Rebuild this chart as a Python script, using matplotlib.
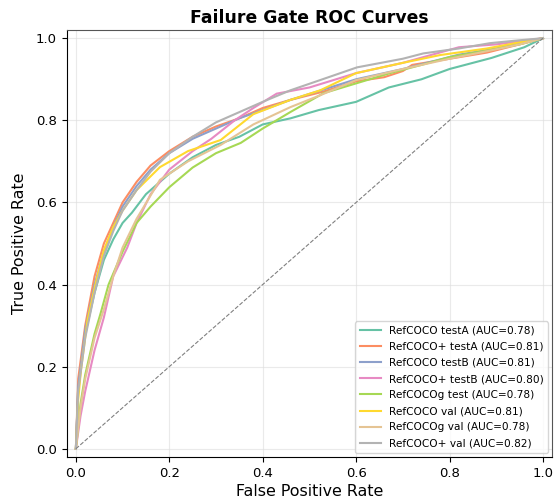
import matplotlib
matplotlib.use("Agg")
import matplotlib.pyplot as plt

# ROC points (fpr, tpr)
labels = ["RefCOCO testA", "RefCOCO+ testA", "RefCOCO testB", "RefCOCO+ testB",
          "RefCOCOg test", "RefCOCO val", "RefCOCOg val", "RefCOCO+ val"]
aucs = [0.78, 0.81, 0.81, 0.80, 0.78, 0.81, 0.78, 0.82]
colors = ["#66c2a5", "#fc8d62", "#8da0cb", "#e78ac3",
          "#a6d854", "#ffd92f", "#e5c494", "#b3b3b3"]

fpr_refcoco_testA = [0, 0.005, 0.02, 0.04, 0.06, 0.08, 0.10, 0.12, 0.15, 0.20, 0.25, 0.30, 0.35,
                     0.40, 0.46, 0.52, 0.60, 0.67, 0.74, 0.80, 0.89, 0.96, 1.0]
tpr_refcoco_testA = [0, 0.15, 0.28, 0.38, 0.46, 0.51, 0.55, 0.575, 0.62, 0.67, 0.71, 0.74, 0.76,
                     0.79, 0.805, 0.825, 0.845, 0.88, 0.90, 0.925, 0.952, 0.978, 1.0]

fpr_refcocop_testA = [0, 0.005, 0.02, 0.04, 0.06, 0.08, 0.10, 0.13, 0.16, 0.20, 0.25, 0.30, 0.35,
                      0.40, 0.46, 0.53, 0.60, 0.66, 0.70, 0.72, 0.80, 0.88, 0.95, 1.0]
tpr_refcocop_testA = [0, 0.17, 0.30, 0.42, 0.50, 0.55, 0.60, 0.65, 0.69, 0.725, 0.76, 0.785, 0.805,
                      0.83, 0.85, 0.87, 0.895, 0.905, 0.92, 0.935, 0.95, 0.965, 0.985, 1.0]

fpr_refcoco_testB = [0, 0.005, 0.02, 0.04, 0.06, 0.08, 0.10, 0.13, 0.16, 0.20, 0.25, 0.30, 0.35,
                     0.40, 0.46, 0.53, 0.60, 0.70, 0.82, 0.90, 0.96, 1.0]
tpr_refcoco_testB = [0, 0.15, 0.29, 0.40, 0.48, 0.54, 0.59, 0.64, 0.68, 0.72, 0.755, 0.78, 0.805,
                     0.825, 0.85, 0.875, 0.90, 0.925, 0.96, 0.975, 0.99, 1.0]

fpr_refcocop_testB = [0, 0.01, 0.02, 0.04, 0.06, 0.08, 0.11, 0.13, 0.16, 0.20, 0.25, 0.29, 0.34,
                      0.38, 0.43, 0.50, 0.60, 0.70, 0.82, 0.90, 1.0]
tpr_refcocop_testB = [0, 0.08, 0.14, 0.24, 0.32, 0.42, 0.49, 0.55, 0.62, 0.68, 0.725, 0.755, 0.80,
                      0.83, 0.865, 0.88, 0.915, 0.94, 0.978, 0.985, 1.0]

fpr_refcocog_test = [0, 0.01, 0.02, 0.04, 0.053, 0.07, 0.10, 0.13, 0.16, 0.20, 0.25, 0.30, 0.353,
                     0.40, 0.459, 0.53, 0.60, 0.673, 0.74, 0.80, 0.88, 0.95, 1.0]
tpr_refcocog_test = [0, 0.11, 0.18, 0.28, 0.33, 0.40, 0.48, 0.55, 0.59, 0.637, 0.685, 0.72, 0.745,
                     0.78, 0.82, 0.866, 0.89, 0.915, 0.935, 0.954, 0.97, 0.985, 1.0]

fpr_refcoco_val = [0, 0.005, 0.011, 0.025, 0.043, 0.06, 0.08, 0.10, 0.13, 0.18, 0.24, 0.31, 0.38,
                   0.46, 0.523, 0.60, 0.70, 0.78, 0.88, 0.95, 1.0]
tpr_refcoco_val = [0, 0.12, 0.192, 0.314, 0.406, 0.484, 0.54, 0.58, 0.63, 0.686, 0.725, 0.752, 0.815,
                   0.85, 0.873, 0.915, 0.94, 0.959, 0.975, 0.99, 1.0]

fpr_refcocog_val = [0, 0.01, 0.02, 0.04, 0.06, 0.08, 0.10, 0.13, 0.18, 0.24, 0.31, 0.38, 0.459,
                    0.523, 0.60, 0.70, 0.80, 0.887, 0.95, 1.0]
tpr_refcocog_val = [0, 0.10, 0.17, 0.27, 0.34, 0.42, 0.49, 0.56, 0.655, 0.70, 0.74, 0.79, 0.832,
                    0.861, 0.898, 0.925, 0.95, 0.97, 0.985, 1.0]

fpr_refcocop_val = [0, 0.005, 0.02, 0.04, 0.06, 0.08, 0.10, 0.13, 0.16, 0.20, 0.25, 0.30, 0.36,
                    0.40, 0.459, 0.523, 0.602, 0.70, 0.744, 0.82, 0.887, 0.95, 1.0]
tpr_refcocop_val = [0, 0.14, 0.27, 0.38, 0.47, 0.53, 0.58, 0.63, 0.675, 0.72, 0.76, 0.795, 0.825,
                    0.845, 0.873, 0.898, 0.929, 0.95, 0.963, 0.975, 0.988, 0.995, 1.0]

curves = [
    (fpr_refcoco_testA, tpr_refcoco_testA),
    (fpr_refcocop_testA, tpr_refcocop_testA),
    (fpr_refcoco_testB, tpr_refcoco_testB),
    (fpr_refcocop_testB, tpr_refcocop_testB),
    (fpr_refcocog_test, tpr_refcocog_test),
    (fpr_refcoco_val, tpr_refcoco_val),
    (fpr_refcocog_val, tpr_refcocog_val),
    (fpr_refcocop_val, tpr_refcocop_val),
]

fig = plt.figure(figsize=(5.59, 5.0), dpi=100)
ax = fig.add_axes([0.119, 0.086, 0.869, 0.854])

for (fpr, tpr), name, auc, c in zip(curves, labels, aucs, colors):
    ax.plot(fpr, tpr, color=c, lw=1.5, label="%s (AUC=%.2f)" % (name, auc))

ax.plot([0, 1], [0, 1], color="gray", lw=0.8, ls="--")
ax.set_xlim(-0.02, 1.02)
ax.set_ylim(-0.02, 1.02)
ax.grid(True, color="#dddddd", alpha=0.6, lw=0.8)
ax.set_xlabel("False Positive Rate", fontsize=11.4, labelpad=3)
ax.set_ylabel("True Positive Rate", fontsize=11.4, labelpad=6)
ax.set_title("Failure Gate ROC Curves", fontsize=12.4, fontweight="bold", pad=5)
ax.tick_params(labelsize=9.5)
for s in ("top", "right"):
    ax.spines[s].set_color("#555555")
ax.legend(loc="lower right", fontsize=7.6, labelspacing=0.58, borderaxespad=0.4)

fig.savefig("out.png", dpi=100)
